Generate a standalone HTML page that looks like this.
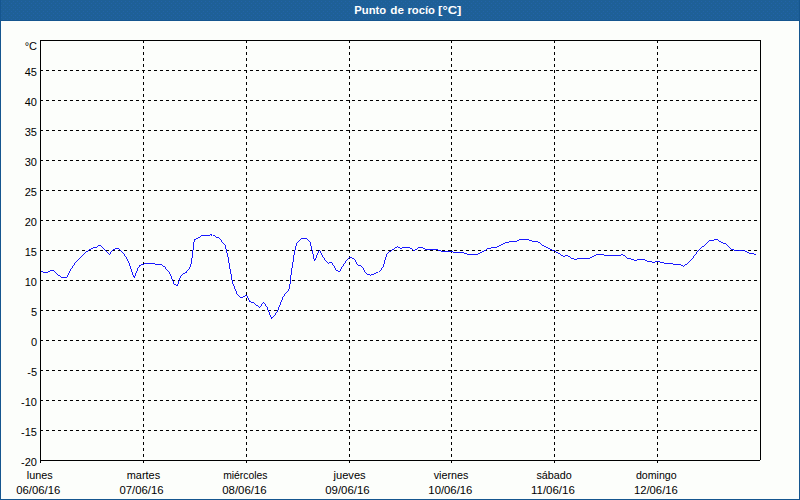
<!DOCTYPE html>
<html><head><meta charset="utf-8"><title>Punto de rocío [°C]</title>
<style>
html,body{margin:0;padding:0;background:#fcfefb;}
body{width:800px;height:500px;overflow:hidden;position:relative;font-family:"Liberation Sans",sans-serif;}
svg{position:absolute;left:0;top:0;display:block}
text{font-family:"Liberation Sans",sans-serif;font-size:11px;fill:#000}
.t{font-weight:bold;fill:#fff;font-size:11px}
.g{stroke:#000;stroke-width:1;stroke-dasharray:3 3;shape-rendering:crispEdges;fill:none}
</style></head><body>
<svg width="800" height="500" viewBox="0 0 800 500">
<rect x="0" y="0" width="800" height="500" fill="#fcfefb"/>
<rect x="0" y="0" width="800" height="21" fill="#1e6097"/>
<defs><pattern id="d" width="4" height="4" patternUnits="userSpaceOnUse"><rect x="1" y="1" width="1" height="1" fill="#2263a8"/><rect x="3" y="3" width="1" height="1" fill="#2263a8"/></pattern></defs>
<rect x="1" y="0" width="798" height="20" fill="url(#d)" shape-rendering="crispEdges"/>
<rect x="0" y="20" width="800" height="1" fill="#15568f"/>
<rect x="0" y="0" width="1" height="500" fill="#15568f"/>
<rect x="799" y="0" width="1" height="500" fill="#15568f"/>
<rect x="0" y="499" width="800" height="1" fill="#15568f"/>
<text class="t" x="354.35" y="14" textLength="31.87" lengthAdjust="spacingAndGlyphs">Punto</text>
<text class="t" x="390.27" y="14" textLength="13.67" lengthAdjust="spacingAndGlyphs">de</text>
<text class="t" x="407.42" y="14" textLength="27.52" lengthAdjust="spacingAndGlyphs">rocío</text>
<text class="t" x="438.14" y="14" textLength="23.29" lengthAdjust="spacingAndGlyphs">[°C]</text>


<line class="g" x1="40" y1="70.5" x2="760" y2="70.5"/>
<line class="g" x1="40" y1="100.5" x2="760" y2="100.5"/>
<line class="g" x1="40" y1="130.5" x2="760" y2="130.5"/>
<line class="g" x1="40" y1="160.5" x2="760" y2="160.5"/>
<line class="g" x1="40" y1="190.5" x2="760" y2="190.5"/>
<line class="g" x1="40" y1="220.5" x2="760" y2="220.5"/>
<line class="g" x1="40" y1="250.5" x2="760" y2="250.5"/>
<line class="g" x1="40" y1="280.5" x2="760" y2="280.5"/>
<line class="g" x1="40" y1="310.5" x2="760" y2="310.5"/>
<line class="g" x1="40" y1="340.5" x2="760" y2="340.5"/>
<line class="g" x1="40" y1="370.5" x2="760" y2="370.5"/>
<line class="g" x1="40" y1="400.5" x2="760" y2="400.5"/>
<line class="g" x1="40" y1="430.5" x2="760" y2="430.5"/>
<line class="g" x1="143.5" y1="40" x2="143.5" y2="463"/>
<line class="g" x1="246.5" y1="40" x2="246.5" y2="463"/>
<line class="g" x1="349.5" y1="40" x2="349.5" y2="463"/>
<line class="g" x1="451.5" y1="40" x2="451.5" y2="463"/>
<line class="g" x1="554.5" y1="40" x2="554.5" y2="463"/>
<line class="g" x1="657.5" y1="40" x2="657.5" y2="463"/>
<g fill="#000" shape-rendering="crispEdges"><rect x="40" y="40" width="721" height="1"/><rect x="40" y="40" width="1" height="423"/><rect x="760" y="40" width="1" height="420"/><rect x="40" y="460" width="720" height="1"/></g>
<text x="37" y="50" text-anchor="end">°C</text>
<text x="37" y="76" text-anchor="end">45</text>
<text x="37" y="106" text-anchor="end">40</text>
<text x="37" y="136" text-anchor="end">35</text>
<text x="37" y="166" text-anchor="end">30</text>
<text x="37" y="196" text-anchor="end">25</text>
<text x="37" y="226" text-anchor="end">20</text>
<text x="37" y="256" text-anchor="end">15</text>
<text x="37" y="286" text-anchor="end">10</text>
<text x="37" y="316" text-anchor="end">5</text>
<text x="37" y="346" text-anchor="end">0</text>
<text x="37" y="376" text-anchor="end">-5</text>
<text x="37" y="406" text-anchor="end">-10</text>
<text x="37" y="436" text-anchor="end">-15</text>
<text x="37" y="466" text-anchor="end">-20</text>
<text x="26.81" y="479" textLength="25.91" lengthAdjust="spacingAndGlyphs">lunes</text>
<text x="16.24" y="494" textLength="44.05" lengthAdjust="spacingAndGlyphs">06/06/16</text>
<text x="126.78" y="479" textLength="33.38" lengthAdjust="spacingAndGlyphs">martes</text>
<text x="119.53" y="494" textLength="43.94" lengthAdjust="spacingAndGlyphs">07/06/16</text>
<text x="223.15" y="479" textLength="44.21" lengthAdjust="spacingAndGlyphs">miércoles</text>
<text x="222.22" y="494" textLength="44.40" lengthAdjust="spacingAndGlyphs">08/06/16</text>
<text x="333.47" y="479" textLength="32.19" lengthAdjust="spacingAndGlyphs">jueves</text>
<text x="325.22" y="494" textLength="44.40" lengthAdjust="spacingAndGlyphs">09/06/16</text>
<text x="433.69" y="479" textLength="34.69" lengthAdjust="spacingAndGlyphs">viernes</text>
<text x="428.37" y="494" textLength="44.04" lengthAdjust="spacingAndGlyphs">10/06/16</text>
<text x="536.43" y="479" textLength="35.31" lengthAdjust="spacingAndGlyphs">sábado</text>
<text x="530.97" y="494" textLength="43.81" lengthAdjust="spacingAndGlyphs">11/06/16</text>
<text x="635.89" y="479" textLength="40.75" lengthAdjust="spacingAndGlyphs">domingo</text>
<text x="633.99" y="494" textLength="43.79" lengthAdjust="spacingAndGlyphs">12/06/16</text>
<polyline points="40.5,271.5 44.5,272.7 49.0,271.2 53.5,270.0 57.2,274.5 61.8,277.2 66.7,277.2 70.0,270.8 76.0,261.8 85.0,252.8 91.0,248.7 96.2,247.2 100.0,245.2 106.0,250.8 109.5,254.2 112.8,249.8 116.5,248.2 120.2,249.8 126.2,257.2 130.0,265.5 134.5,277.6 137.5,269.2 140.2,265.2 145.2,263.6 153.5,263.6 155.0,264.4 161.0,264.4 164.8,267.0 170.0,273.8 173.8,283.5 177.2,286.2 181.2,275.2 186.5,272.2 190.2,267.0 192.2,256.5 194.3,240.0 202.2,235.5 208.5,235.5 209.5,234.5 211.5,234.5 212.5,235.5 215.0,236.7 220.2,238.5 224.8,243.8 228.5,259.5 233.0,284.0 237.6,295.0 241.6,298.0 246.6,295.0 250.0,301.6 255.0,303.6 259.6,308.0 263.4,302.0 267.0,307.0 271.6,319.0 277.0,312.0 283.0,297.0 285.0,294.0 289.4,289.0 291.3,273.0 292.5,265.0 293.5,257.5 295.3,248.7 296.8,243.0 301.0,238.6 306.0,238.2 310.0,242.0 312.0,250.0 314.5,261.0 319.4,250.0 323.0,257.0 328.0,263.4 331.6,262.4 336.6,270.6 340.0,271.4 343.8,264.0 349.8,256.9 354.2,258.8 357.2,264.8 361.8,266.2 366.2,273.8 370.8,275.2 378.2,272.2 383.5,265.5 386.5,255.0 389.5,251.2 396.7,246.4 400.8,248.6 403.0,247.5 409.8,247.5 413.5,250.2 418.0,247.9 421.8,247.5 426.2,249.4 436.0,249.4 443.5,251.6 451.8,251.6 454.8,252.4 462.8,252.4 468.0,254.6 477.0,254.6 488.2,248.6 498.0,246.8 505.5,242.6 510.0,241.5 516.0,241.5 519.8,239.6 526.5,239.6 532.5,241.5 537.8,241.5 543.0,245.6 555.0,251.2 560.0,254.2 563.8,256.5 566.8,255.4 572.0,258.4 575.8,259.5 578.8,258.4 589.2,258.4 596.8,254.6 602.8,254.6 605.0,255.4 620.0,255.4 623.0,254.6 627.5,258.4 635.0,260.6 638.8,259.5 642.5,259.5 647.0,261.0 653.8,262.5 657.5,261.4 664.5,263.6 672.0,263.6 674.2,264.4 680.2,264.4 683.2,266.2 687.0,264.0 692.2,258.8 699.8,248.6 704.2,245.6 709.5,240.4 713.2,240.4 716.7,239.2 721.5,242.6 726.0,244.5 731.2,249.0 735.0,250.5 742.5,250.5 747.0,252.4 756.0,254.6" fill="none" stroke="#0000ff" stroke-width="0.9" shape-rendering="crispEdges"/>
</svg></body></html>
